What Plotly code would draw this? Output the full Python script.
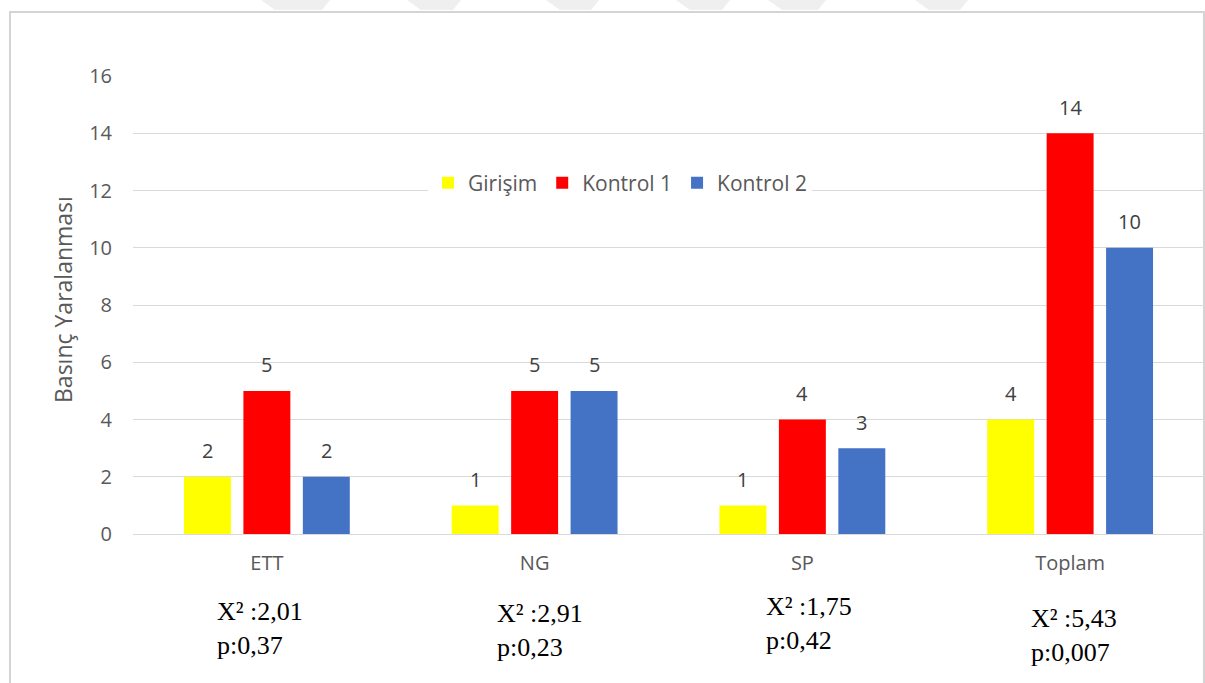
import plotly.graph_objects as go

# ---- data ----
categories = ["ETT", "NG", "SP", "Toplam"]
girisim = [2, 1, 1, 4]
kontrol1 = [5, 5, 4, 14]
kontrol2 = [2, 5, 3, 10]
series_names = ["Girişim", "Kontrol 1", "Kontrol 2"]
chi_square = ["2,01", "2,91", "1,75", "5,43"]
p_values = ["0,37", "0,23", "0,42", "0,007"]
y_ticks = [0, 2, 4, 6, 8, 10, 12, 14, 16]

series_values = [girisim, kontrol1, kontrol2]
series_colors = ["#FFFF00", "#FF0000", "#4472C4"]

# ---- layout constants ----
W, H = 1205, 683
M_L, M_R, M_T, M_B = 133, 1, 76, 149
PLOT_W = W - M_L - M_R
PLOT_H = H - M_T - M_B
BARGAP = 0.334
BARGROUPGAP = 0.21

SANS = "Open Sans"
SERIF = "Liberation Serif"
AXIS_GREY = "#595959"
GRID_GREY = "#d9d9d9"


def paper_x(px):
    return (px - M_L) / PLOT_W


def paper_y(py):
    return (H - M_B - py) / PLOT_H


fig = go.Figure()

for name, vals, color in zip(series_names, series_values, series_colors):
    fig.add_trace(go.Bar(
        name=name,
        x=categories,
        y=vals,
        marker=dict(color=color, line=dict(width=0)),
        hoverinfo="x+y+name",
    ))

# value labels above each bar (offset derived from the grouped-bar geometry)
cat_px = PLOT_W / len(categories)
slot_px = cat_px * (1 - BARGAP) / len(series_names)
annotations = []
for i, vals in enumerate(series_values):
    shift = (i - (len(series_names) - 1) / 2) * slot_px
    for cat, v in zip(categories, vals):
        annotations.append(dict(
            x=cat, y=v, xref="x", yref="y",
            text=str(v), showarrow=False,
            xshift=shift, yshift=26, yanchor="middle",
            font=dict(family=SANS, size=20, color="#404040"),
        ))

# chi-square / p statistics under each category
stat_pos = [(-52, 611, 645), (-40, 613, 647), (-38, 606, 640), (-41, 618, 652)]
for cat, chi, p, (dx, y1, y2) in zip(categories, chi_square, p_values, stat_pos):
    for txt, py in ((f"X² :{chi}", y1), (f"p:{p}", y2)):
        annotations.append(dict(
            x=cat, xref="x", y=paper_y(py), yref="paper",
            text=txt, showarrow=False, xanchor="left", yanchor="middle",
            xshift=dx,
            font=dict(family=SERIF, size=26, color="#000000"),
        ))

# y axis title
annotations.append(dict(
    x=paper_x(63), xref="paper", y=paper_y(300), yref="paper",
    text="Basınç Yaralanması", textangle=-90, showarrow=False,
    xanchor="center", yanchor="middle",
    font=dict(family=SANS, size=23, color=AXIS_GREY),
))

shapes = [
    # chart frame
    dict(type="rect", xref="paper", yref="paper",
         x0=paper_x(10), x1=paper_x(1204), y0=paper_y(700), y1=paper_y(12),
         line=dict(color="#d4d4d4", width=2), fillcolor="rgba(0,0,0,0)",
         layer="below"),
]

# faint bands along the top edge
top_bands = [(261, 330), (407, 461), (546, 599), (676, 730), (768, 826), (915, 968)]
for a, b in top_bands:
    path = (f"M {paper_x(a)} {paper_y(0)} L {paper_x(b)} {paper_y(0)} "
            f"L {paper_x(b - 8)} {paper_y(10)} L {paper_x(a + 14)} {paper_y(10)} Z")
    shapes.append(dict(type="path", xref="paper", yref="paper", path=path,
                       fillcolor="#efefef", line=dict(width=0), layer="below"))

fig.update_layout(
    width=W, height=H,
    margin=dict(l=M_L, r=M_R, t=M_T, b=M_B, pad=0),
    paper_bgcolor="white", plot_bgcolor="white",
    barmode="group", bargap=BARGAP, bargroupgap=BARGROUPGAP,
    showlegend=True,
    legend=dict(
        orientation="h", x=paper_x(620), y=paper_y(183),
        xanchor="center", yanchor="middle",
        bgcolor="white", borderwidth=0,
        font=dict(family=SANS, size=21, color=AXIS_GREY),
        itemwidth=30, traceorder="normal",
    ),
    annotations=annotations,
    shapes=shapes,
    font=dict(family=SANS),
)

fig.update_yaxes(
    range=[0, 16], tickvals=y_ticks,
    showgrid=True, gridcolor=GRID_GREY, gridwidth=1,
    zeroline=True, zerolinecolor=GRID_GREY, zerolinewidth=1,
    showline=False, ticks="", ticklabelstandoff=20,
    tickfont=dict(family=SANS, size=20, color=AXIS_GREY),
)
fig.update_xaxes(
    type="category", showgrid=False, zeroline=False, showline=False,
    ticks="", ticklabelstandoff=15,
    tickfont=dict(family=SANS, size=20, color=AXIS_GREY),
)

fig.write_html("out.html")
